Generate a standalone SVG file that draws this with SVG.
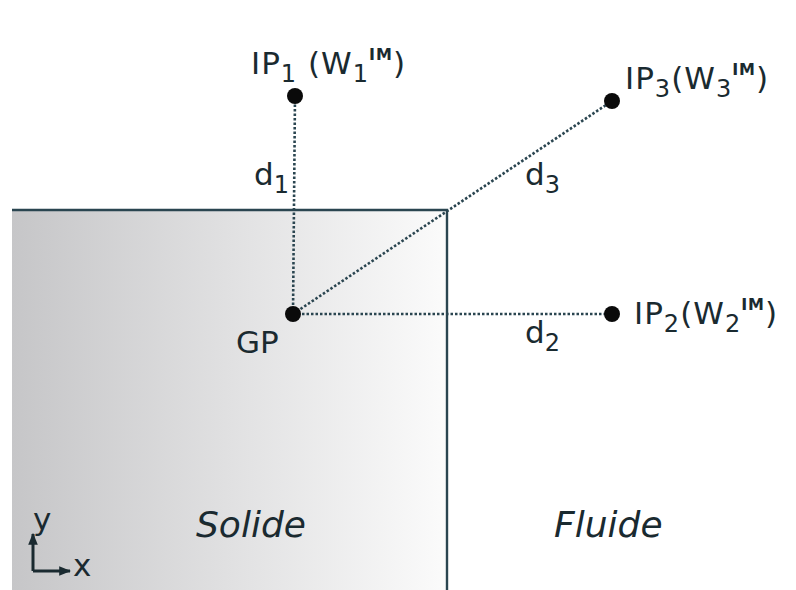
<svg xmlns="http://www.w3.org/2000/svg" width="796" height="590" viewBox="0 0 796 590">
<defs>
<linearGradient id="solid" x1="0" y1="0" x2="1" y2="0">
<stop offset="0" stop-color="#c6c6c8"/>
<stop offset="1" stop-color="#fbfbfb"/>
</linearGradient>
<marker id="ah" viewBox="0 0 10 10" refX="9" refY="5" markerWidth="4" markerHeight="4" orient="auto">
<path d="M0,1 L10,5 L0,9 z" fill="#1a2a30"/>
</marker>
<style>
.t{font-family:"DejaVu Sans",sans-serif;fill:#1a2a30;font-size:31px}
.lb{letter-spacing:1px}
.it{font-family:"DejaVu Sans",sans-serif;fill:#1a2a30;font-size:36px;font-style:italic}
.sub{font-size:24px}
.sup{font-size:16px;font-weight:bold}
.dot{stroke:#2a4550;stroke-width:2.6;stroke-dasharray:2.5 2;fill:none}
.bd{stroke:#2a4550;stroke-width:2.4;fill:none}
.pt{fill:#0a0a0a}
</style>
</defs>
<rect width="796" height="590" fill="#ffffff"/>
<g id="solide">
<rect x="12" y="210" width="435" height="380" fill="url(#solid)"/>
<path class="bd" d="M12,210 H447 V590"/>
<text class="it" x="196" y="537">Solide</text>
</g>
<g id="fluide">
<text class="it" x="554" y="537">Fluide</text>
</g>
<g id="connectors">
<line class="dot" x1="293" y1="314" x2="295" y2="96"/>
<line class="dot" x1="293" y1="314" x2="612" y2="101"/>
<line class="dot" x1="293" y1="314" x2="612" y2="314"/>
</g>
<g id="GP">
<circle class="pt" cx="293" cy="314" r="8"/>
<text class="t" x="236" y="353" font-size="34">GP</text>
</g>
<g id="IP1">
<circle class="pt" cx="295" cy="96" r="8"/>
<text class="t lb" x="251" y="74">IP<tspan class="sub" dy="8">1</tspan><tspan dy="-8"> (W</tspan><tspan class="sub" dy="8">1</tspan><tspan class="sup" dy="-22">IM</tspan><tspan dy="14">)</tspan></text>
</g>
<g id="IP3">
<circle class="pt" cx="612" cy="101" r="8"/>
<text class="t lb" x="625" y="89">IP<tspan class="sub" dy="8">3</tspan><tspan dy="-8">(W</tspan><tspan class="sub" dy="8">3</tspan><tspan class="sup" dy="-22">IM</tspan><tspan dy="14">)</tspan></text>
</g>
<g id="IP2">
<circle class="pt" cx="612" cy="314" r="8"/>
<text class="t lb" x="634" y="324">IP<tspan class="sub" dy="8">2</tspan><tspan dy="-8">(W</tspan><tspan class="sub" dy="8">2</tspan><tspan class="sup" dy="-22">IM</tspan><tspan dy="14">)</tspan></text>
</g>
<g id="labels">
<text class="t" x="254" y="185">d<tspan class="sub" dy="8">1</tspan></text>
<text class="t" x="525" y="185">d<tspan class="sub" dy="8">3</tspan></text>
<text class="t" x="525" y="343">d<tspan class="sub" dy="8">2</tspan></text>
</g>
<g id="axes">
<line x1="33" y1="571" x2="33" y2="534" stroke="#1a2a30" stroke-width="3" marker-end="url(#ah)"/>
<line x1="33" y1="571" x2="70" y2="571" stroke="#1a2a30" stroke-width="3" marker-end="url(#ah)"/>
<text class="t" x="33" y="530" font-size="24">y</text>
<text class="t" x="73" y="576" font-size="24">x</text>
</g>
</svg>
